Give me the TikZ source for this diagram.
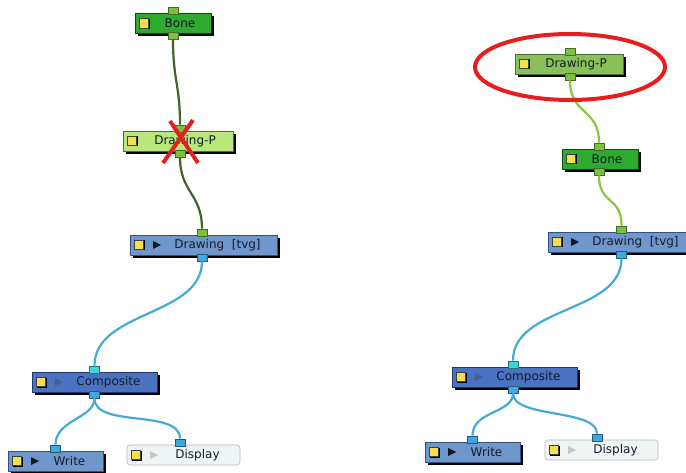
\documentclass[tikz,border=0pt]{standalone}
\usepackage{fontspec}
\setmainfont{DejaVu Sans}
\usetikzlibrary{positioning,shadows,calc}

\definecolor{bonefill}{HTML}{2EAA2E}
\definecolor{boneline}{HTML}{0E4A0E}
\definecolor{pegpale}{HTML}{B8E87C}
\definecolor{pegmid}{HTML}{8AC05A}
\definecolor{pegline}{HTML}{4E6E32}
\definecolor{drawfill}{HTML}{7097CC}
\definecolor{drawline}{HTML}{34507E}
\definecolor{compfill}{HTML}{4A72C0}
\definecolor{compline}{HTML}{1E3672}
\definecolor{dispfill}{HTML}{EFF5F5}
\definecolor{displine}{HTML}{B2BABA}
\definecolor{iconyellow}{HTML}{F6DE4C}
\definecolor{textdark}{HTML}{141C28}
\definecolor{portgreen}{HTML}{7CC040}
\definecolor{portblue}{HTML}{40A8E0}
\definecolor{portcyan}{HTML}{40D4D8}
\definecolor{wiredark}{HTML}{46602E}
\definecolor{wirelight}{HTML}{8CC63C}
\definecolor{wireblue}{HTML}{45AAD8}
\definecolor{markred}{HTML}{E81E1E}

% yellow icon and play mark inside a module box
\newcommand{\nodeicon}{%
  \fill[black, sharp corners] ([xshift=5pt,yshift=-5.5pt]path picture bounding box.west) rectangle ++(10pt,10pt);
  \filldraw[fill=iconyellow, draw=black!75, line width=.4pt, sharp corners] ([xshift=4pt,yshift=-4.5pt]path picture bounding box.west) rectangle ++(9.5pt,9.5pt);}
\newcommand{\playmark}[1]{%
  \fill[#1, sharp corners] ([xshift=23pt,yshift=-4pt]path picture bounding box.west) -- ++(0pt,8pt) -- ++(8pt,-4pt) -- cycle;}

\tikzset{
  netbox/.style={rectangle, draw=#1, line width=.6pt, inner sep=0pt, minimum height=20pt,
    text=textdark, font=\fontsize{12}{14}\selectfont,
    drop shadow={shadow xshift=3pt, shadow yshift=-3pt, opacity=1, fill=black}},
  flatbox/.style={rectangle, draw=#1, line width=.6pt, inner sep=0pt, minimum height=20pt,
    text=textdark, font=\fontsize{12}{14}\selectfont, rounded corners=3pt},
  plainicon/.style={path picture={\nodeicon}, execute at begin node={\hspace*{14pt}}},
  playicon/.style={path picture={\nodeicon\playmark{#1}}, execute at begin node={\hspace*{28pt}}},
  port/.style={rectangle, inner sep=0pt, minimum width=10pt, minimum height=7pt,
    fill=#1, draw=#1!55!black, line width=.6pt},
  wire/.style={line width=2.2pt, draw=#1},
  redmark/.style={line width=4pt, draw=markred}
}

\begin{document}
\begin{tikzpicture}[x=1pt, y=-1pt]
  \clip (0,0) rectangle (686,473);
  \fill[white] (0,0) rectangle (686,473);

  % left network
  \node[netbox=boneline, fill=bonefill, plainicon, minimum width=76pt] (boneL) at (173,23.5) {Bone};
  \node[netbox=pegline, fill=pegpale, plainicon, minimum width=110pt] (pegL) at (178,141) {Drawing-P};
  \node[netbox=drawline, fill=drawfill, playicon=black!70!drawline, minimum width=147pt] (drawL) at (203.5,245) {Drawing~~[tvg]};
  \node[netbox=compline, fill=compfill, playicon=compline!80!white, minimum width=125pt] (compL) at (94.5,382) {Composite};
  \node[netbox=drawline, fill=drawfill, playicon=black!70!drawline, minimum width=95pt] (writeL) at (55.5,461) {Write};
  \node[flatbox=displine, fill=dispfill, playicon=black!22, minimum width=113pt] (dispL) at (183.5,455) {Display};

  \node[port=portgreen, above=-1.5pt of boneL] (boneL-in) {};
  \node[port=portgreen, below=-1.5pt of boneL] (boneL-out) {};
  \node[port=portgreen, above=-1.5pt of pegL, xshift=2pt] (pegL-in) {};
  \node[port=portgreen, below=-1.5pt of pegL, xshift=2pt] (pegL-out) {};
  \node[port=portgreen, above=-1.5pt of drawL, xshift=-1.5pt] (drawL-in) {};
  \node[port=portblue, below=-1.5pt of drawL, xshift=-1.5pt] (drawL-out) {};
  \node[port=portcyan, above=-1.5pt of compL] (compL-in) {};
  \node[port=portblue, below=-1.5pt of compL] (compL-out) {};
  \node[port=portblue, above=-1.5pt of writeL] (writeL-in) {};
  \node[port=portblue, above=-1.5pt of dispL, xshift=-3.5pt] (dispL-in) {};

  \draw[wire=wiredark] (boneL-out.south) .. controls +(0,40) and +(0,-40) .. (pegL-in.north);
  \draw[wire=wiredark] (pegL-out.south) .. controls +(0,35) and +(0,-35) .. (drawL-in.north);
  \draw[wire=wireblue] (drawL-out.south) .. controls +(0,55) and +(0,-55) .. (compL-in.north);
  \draw[wire=wireblue] (compL-out.south) .. controls +(0,20) and +(0,-25) .. (writeL-in.north);
  \draw[wire=wireblue] (compL-out.south) .. controls +(0,30) and +(0,-30) .. (dispL-in.north);

  % crossed out peg
  \coordinate (cross) at (181,142);
  \draw[redmark] ($(cross)+(-11,-21)$) -- ($(cross)+(17,21)$);
  \draw[redmark] ($(cross)+(12,-22)$) -- ($(cross)+(-18,21)$);

  % right network
  \node[netbox=pegline, fill=pegmid, plainicon, minimum width=108pt] (pegR) at (569,64) {Drawing-P};
  \node[netbox=boneline, fill=bonefill, plainicon, minimum width=76pt] (boneR) at (600,159) {Bone};
  \node[netbox=drawline, fill=drawfill, playicon=black!70!drawline, minimum width=147pt] (drawR) at (621.5,242) {Drawing~~[tvg]};
  \node[netbox=compline, fill=compfill, playicon=compline!80!white, minimum width=125pt] (compR) at (514.5,377) {Composite};
  \node[netbox=drawline, fill=drawfill, playicon=black!70!drawline, minimum width=95pt] (writeR) at (472.5,452) {Write};
  \node[flatbox=displine, fill=dispfill, playicon=black!22, minimum width=113pt] (dispR) at (601.5,450) {Display};

  \node[port=portgreen, above=-1.5pt of pegR, xshift=1pt] (pegR-in) {};
  \node[port=portgreen, below=-1.5pt of pegR, xshift=1pt] (pegR-out) {};
  \node[port=portgreen, above=-1.5pt of boneR, xshift=-1pt] (boneR-in) {};
  \node[port=portgreen, below=-1.5pt of boneR, xshift=-1pt] (boneR-out) {};
  \node[port=portgreen, above=-1.5pt of drawR] (drawR-in) {};
  \node[port=portblue, below=-1.5pt of drawR] (drawR-out) {};
  \node[port=portcyan, above=-1.5pt of compR, xshift=-1.5pt] (compR-in) {};
  \node[port=portblue, below=-1.5pt of compR, xshift=-1.5pt] (compR-out) {};
  \node[port=portblue, above=-1.5pt of writeR] (writeR-in) {};
  \node[port=portblue, above=-1.5pt of dispR, xshift=-4.5pt] (dispR-in) {};

  \draw[wire=wirelight] (pegR-out.south) .. controls +(0,35) and +(0,-35) .. (boneR-in.north);
  \draw[wire=wirelight] (boneR-out.south) .. controls +(0,30) and +(0,-30) .. (drawR-in.north);
  \draw[wire=wireblue] (drawR-out.south) .. controls +(0,55) and +(0,-55) .. (compR-in.north);
  \draw[wire=wireblue] (compR-out.south) .. controls +(0,20) and +(0,-25) .. (writeR-in.north);
  \draw[wire=wireblue] (compR-out.south) .. controls +(0,25) and +(0,-25) .. (dispR-in.north);

  % highlight
  \draw[redmark] (570,67) ellipse [x radius=95, y radius=33];
\end{tikzpicture}
\end{document}
